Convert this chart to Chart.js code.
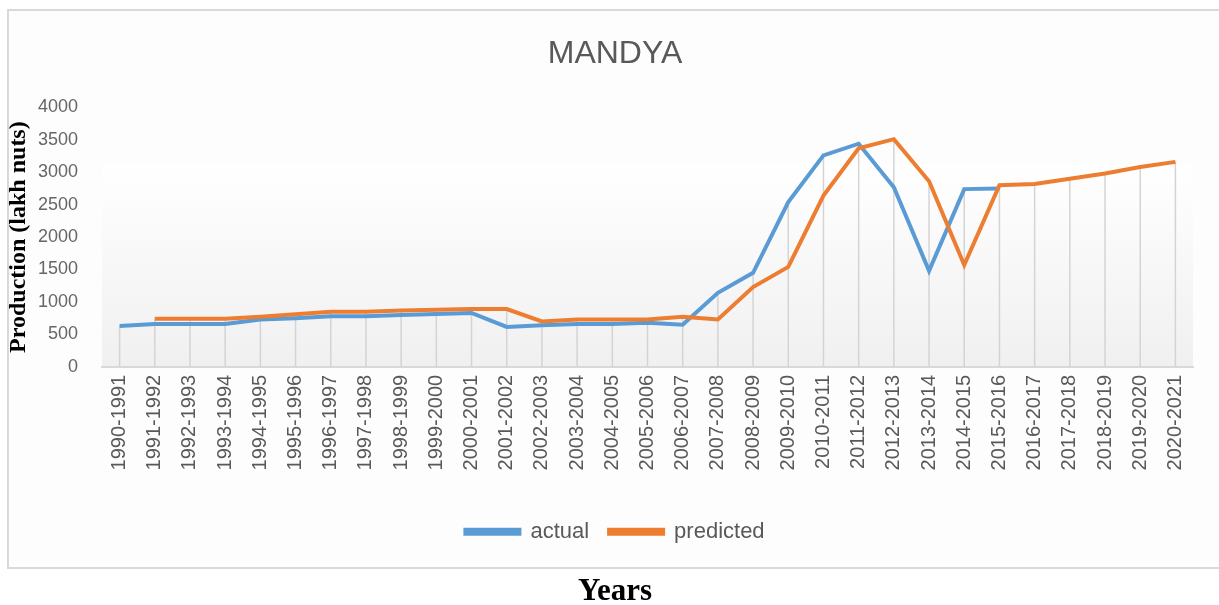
<!DOCTYPE html>
<html>
<head>
<meta charset="utf-8">
<script src="https://cdn.jsdelivr.net/npm/chart.js@4"></script>
<style>
  html, body { margin: 0; padding: 0; background: #ffffff; overflow: hidden; }
  #wrap { position: relative; width: 1219px; height: 605px; }
  #frame { position: absolute; left: 7px; top: 9px; width: 1230px; height: 556px; border: 2px solid #d9d9d9; background: #fdfdfd; }
  canvas { position: absolute; left: 0; top: 0; }
</style>
</head>
<body>
<div id="wrap">
  <div id="frame"></div>
  <canvas id="c" width="1219" height="605"></canvas>
</div>
<script>
const categories = ['1990-1991','1991-1992','1992-1993','1993-1994','1994-1995','1995-1996','1996-1997','1997-1998','1998-1999','1999-2000','2000-2001','2001-2002','2002-2003','2003-2004','2004-2005','2005-2006','2006-2007','2007-2008','2008-2009','2009-2010','2010-2011','2011-2012','2012-2013','2013-2014','2014-2015','2015-2016','2016-2017','2017-2018','2018-2019','2019-2020','2020-2021'];
const actual = [630, 660, 660, 660, 730, 750, 780, 780, 800, 815, 830, 615, 640, 660, 660, 680, 650, 1140, 1450, 2540, 3260, 3440, 2770, 1480, 2740, 2750, null, null, null, null, null];
const predicted = [null, 740, 740, 740, 770, 810, 850, 850, 870, 880, 890, 890, 700, 730, 730, 730, 770, 730, 1230, 1540, 2640, 3370, 3510, 2860, 1570, 2800, 2820, 2900, 2980, 3080, 3160];
const seriesNames = ['actual', 'predicted'];
const yTicks = [0, 500, 1000, 1500, 2000, 2500, 3000, 3500, 4000];

const gradientBg = {
  id: 'gradientBg',
  beforeDraw(chart) {
    const { ctx, chartArea: a } = chart;
    const top = a.top + 0.22 * (a.bottom - a.top);
    const g = ctx.createLinearGradient(0, top, 0, a.bottom);
    g.addColorStop(0, '#ffffff');
    g.addColorStop(1, '#f0f0f0');
    ctx.save();
    ctx.fillStyle = g;
    ctx.fillRect(a.left, top, a.right - a.left, a.bottom - top);
    ctx.restore();
  }
};

const dropLines = {
  id: 'dropLines',
  beforeDatasetsDraw(chart) {
    const { ctx } = chart;
    const xs = chart.scales.x, ys = chart.scales.y;
    ctx.save();
    ctx.strokeStyle = '#d4d4d4';
    ctx.lineWidth = 1.5;
    categories.forEach((c, i) => {
      const vals = chart.data.datasets.map(d => d.data[i]).filter(v => v !== null && v !== undefined);
      if (!vals.length) return;
      const m = Math.max(...vals);
      const x = xs.getPixelForValue(i);
      ctx.beginPath();
      ctx.moveTo(x, ys.getPixelForValue(m));
      ctx.lineTo(x, ys.getPixelForValue(0));
      ctx.stroke();
    });
    ctx.restore();
  }
};

new Chart(document.getElementById('c'), {
  type: 'line',
  data: {
    labels: categories,
    datasets: [
      { label: seriesNames[0], data: actual, borderColor: '#5b9bd5', backgroundColor: '#5b9bd5', borderWidth: 4, pointRadius: 0, tension: 0, order: 2, spanGaps: false },
      { label: seriesNames[1], data: predicted, borderColor: '#ed7d31', backgroundColor: '#ed7d31', borderWidth: 4, pointRadius: 0, tension: 0, order: 1, spanGaps: false }
    ]
  },
  options: {
    responsive: false,
    animation: false,
    layout: { padding: { left: 37, right: 26, top: 0, bottom: 0 } },
    plugins: {
      tooltip: { enabled: false },
      title: {
        display: true, text: 'MANDYA', color: '#595959',
        font: { family: "'Liberation Sans', Arial, sans-serif", size: 32, weight: 'normal' },
        padding: { top: 35, bottom: 34 }
      },
      subtitle: {
        display: true, text: 'Years', position: 'bottom', color: '#000000', weight: 2000,
        font: { family: "'Liberation Serif', 'Times New Roman', serif", size: 31, weight: 'bold' },
        padding: { top: 21, bottom: -6 }
      },
      legend: {
        position: 'bottom',
        labels: {
          boxWidth: 54, boxHeight: 4, padding: 20, color: '#595959',
          font: { family: "'Liberation Sans', Arial, sans-serif", size: 22 },
          sort: (a, b) => a.datasetIndex - b.datasetIndex
        }
      }
    },
    scales: {
      x: {
        offset: true,
        grid: { display: false, drawTicks: false },
        border: { display: true, color: '#d9d9d9', width: 2 },
        ticks: {
          minRotation: 90, maxRotation: 90, autoSkip: false, padding: 8, color: '#595959',
          font: { family: "'Liberation Sans', Arial, sans-serif", size: 20 }
        },
        afterFit: (s) => { s.height = 134; }
      },
      y: {
        min: 0, max: 4000,
        afterBuildTicks: (s) => { s.ticks = yTicks.map(v => ({ value: v })); },
        grid: { display: false, drawTicks: false },
        border: { display: false },
        ticks: {
          padding: 24, color: '#666666',
          font: { family: "'Liberation Sans', Arial, sans-serif", size: 18 },
          callback: (v) => String(v)
        },
        title: {
          display: true, text: 'Production (lakh nuts)', color: '#000000',
          font: { family: "'Liberation Serif', 'Times New Roman', serif", size: 24, weight: 'bold' },
          padding: { top: -33, bottom: 0 }
        },
        afterFit: (s) => { s.width = 65; }
      }
    }
  },
  plugins: [gradientBg, dropLines]
});
</script>
</body>
</html>
